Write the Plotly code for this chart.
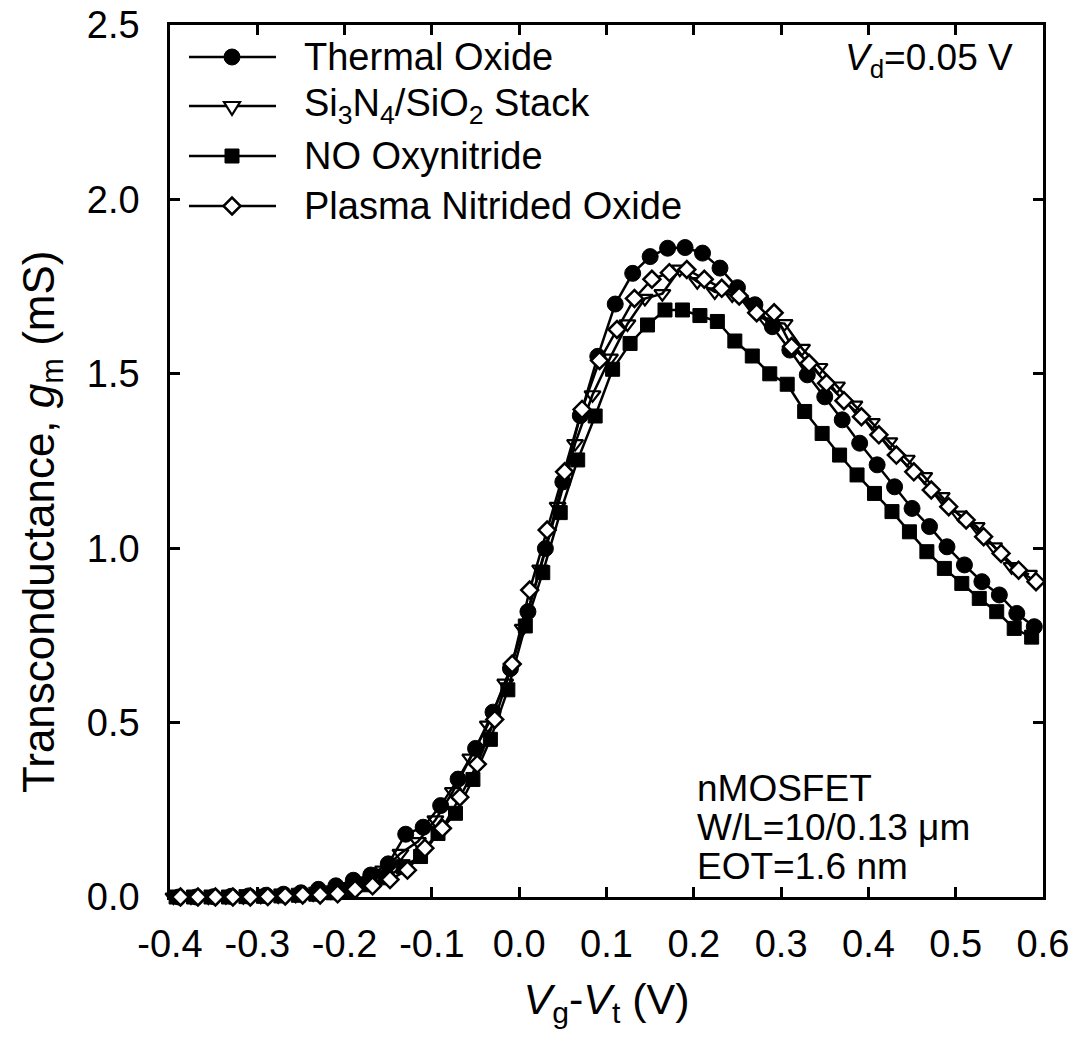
import plotly.graph_objects as go

# ---------------- data ----------------
VG = [-0.39, -0.37, -0.35, -0.33, -0.31, -0.29, -0.27, -0.25, -0.23, -0.21,
      -0.19, -0.17, -0.15, -0.13, -0.11, -0.09, -0.07, -0.05, -0.03, -0.01,
      0.01, 0.03, 0.05, 0.07, 0.09, 0.11, 0.13, 0.15, 0.17, 0.19,
      0.21, 0.23, 0.25, 0.27, 0.29, 0.31, 0.33, 0.35, 0.37, 0.39,
      0.41, 0.43, 0.45, 0.47, 0.49, 0.51, 0.53, 0.55, 0.57, 0.59]

# small per-device offsets of the Vg-Vt sweep grid
SHIFT_THERMAL = 0.000
SHIFT_STACK = -0.006
SHIFT_NO = -0.003
SHIFT_PLASMA = 0.002

GM_THERMAL = [0.000, 0.000, 0.001, 0.002, 0.003, 0.005, 0.008, 0.012, 0.022, 0.032,
              0.048, 0.063, 0.095, 0.180, 0.200, 0.262, 0.338, 0.426, 0.530, 0.655,
              0.818, 0.999, 1.190, 1.380, 1.550, 1.700, 1.788, 1.836, 1.860, 1.862,
              1.846, 1.803, 1.747, 1.698, 1.635, 1.568, 1.497, 1.434, 1.368, 1.301,
              1.239, 1.176, 1.114, 1.062, 1.004, 0.952, 0.904, 0.866, 0.813, 0.775]

GM_STACK = [0.000, 0.000, 0.000, 0.001, 0.001, 0.002, 0.003, 0.005, 0.009, 0.015,
            0.025, 0.045, 0.077, 0.125, 0.159, 0.221, 0.302, 0.398, 0.493, 0.613,
            0.770, 0.940, 1.120, 1.300, 1.440, 1.545, 1.643, 1.716, 1.730, 1.800,
            1.764, 1.735, 1.726, 1.702, 1.649, 1.644, 1.573, 1.518, 1.465, 1.410,
            1.360, 1.305, 1.255, 1.205, 1.148, 1.095, 1.062, 1.004, 0.947, 0.925]

GM_NO = [0.000, 0.000, 0.000, 0.000, 0.001, 0.002, 0.003, 0.005, 0.008, 0.012,
         0.020, 0.035, 0.055, 0.087, 0.116, 0.182, 0.240, 0.337, 0.452, 0.594,
         0.777, 0.930, 1.102, 1.253, 1.379, 1.513, 1.587, 1.640, 1.683, 1.683,
         1.667, 1.650, 1.594, 1.551, 1.500, 1.470, 1.392, 1.329, 1.267, 1.210,
         1.157, 1.105, 1.047, 0.990, 0.942, 0.899, 0.856, 0.818, 0.770, 0.745]

GM_PLASMA = [0.000, 0.000, 0.000, 0.000, 0.000, 0.001, 0.003, 0.006, 0.006, 0.009,
             0.022, 0.032, 0.050, 0.077, 0.140, 0.197, 0.286, 0.381, 0.509, 0.668,
             0.880, 1.052, 1.219, 1.398, 1.538, 1.627, 1.716, 1.771, 1.790, 1.799,
             1.771, 1.745, 1.723, 1.675, 1.675, 1.578, 1.530, 1.473, 1.423, 1.377,
             1.325, 1.267, 1.219, 1.167, 1.119, 1.081, 1.033, 0.985, 0.937, 0.904]

SERIES_NAMES = ["Thermal Oxide",
                "Si<sub>3</sub>N<sub>4</sub>/SiO<sub>2</sub> Stack",
                "NO Oxynitride",
                "Plasma Nitrided Oxide"]

X_TICKS = [-0.4, -0.3, -0.2, -0.1, 0.0, 0.1, 0.2, 0.3, 0.4, 0.5, 0.6]
X_TICKTEXT = ["-0.4", "-0.3", "-0.2", "-0.1", "0.0", "0.1", "0.2", "0.3", "0.4", "0.5", "0.6"]
Y_TICKS = [0.0, 0.5, 1.0, 1.5, 2.0, 2.5]
Y_TICKTEXT = ["0.0", "0.5", "1.0", "1.5", "2.0", "2.5"]

# ---------------- layout constants ----------------
W, H = 1076, 1052
ML, MR, MT, MB = 170, 33, 25, 155
PW, PH = W - ML - MR, H - MT - MB
FONT = "Liberation Sans, Arial, Helvetica, sans-serif"
LW = 2.5

styles = [
    dict(symbol="circle", size=16, color="black", line=dict(color="black", width=1)),
    dict(symbol="triangle-down-open", size=14, color="black", line=dict(color="black", width=2.2)),
    dict(symbol="square", size=14, color="black", line=dict(color="black", width=1)),
    dict(symbol="diamond", size=13, color="white", line=dict(color="black", width=2.5)),
]
shifts = [SHIFT_THERMAL, SHIFT_STACK, SHIFT_NO, SHIFT_PLASMA]
values = [GM_THERMAL, GM_STACK, GM_NO, GM_PLASMA]

fig = go.Figure()
for name, sh, ys, st in zip(SERIES_NAMES, shifts, values, styles):
    fig.add_trace(go.Scatter(
        x=[v + sh for v in VG], y=ys, name=name, mode="lines+markers",
        line=dict(color="black", width=LW),
        marker=st, cliponaxis=False, showlegend=False))

# ---------------- manual legend (pixel placement) ----------------
def px2paper(px, py):
    return (px - ML) / PW, (H - MB - py) / PH

shapes = []
annotations = []
legend_rows = [57, 106, 156, 206]
line_x0, line_x1, mark_x, text_x = 189, 276, 232, 302
for i, (name, py) in enumerate(zip(SERIES_NAMES, legend_rows)):
    xa, ya = px2paper(line_x0, py)
    xb, _ = px2paper(line_x1, py)
    xm, _ = px2paper(mark_x, py)
    xt, _ = px2paper(text_x, py)
    shapes.append(dict(type="line", xref="paper", yref="paper", x0=xa, x1=xb, y0=ya, y1=ya,
                       line=dict(color="black", width=LW)))
    common = dict(xref="paper", yref="paper", xsizemode="pixel", ysizemode="pixel",
                  xanchor=xm, yanchor=ya)
    if i == 0:
        shapes.append(dict(type="circle", x0=-8, x1=8, y0=-8, y1=8,
                           fillcolor="black", line=dict(color="black", width=1), **common))
    elif i == 1:
        shapes.append(dict(type="path", path="M-8,4 L8,4 L0,-9 Z",
                           fillcolor="white", line=dict(color="black", width=2.2), **common))
    elif i == 2:
        shapes.append(dict(type="rect", x0=-7, x1=7, y0=-7, y1=7,
                           fillcolor="black", line=dict(color="black", width=1), **common))
    else:
        shapes.append(dict(type="path", path="M0,-8.5 L8.5,0 L0,8.5 L-8.5,0 Z",
                           fillcolor="white", line=dict(color="black", width=2.5), **common))
    annotations.append(dict(text=name, xref="paper", yref="paper", x=xt, y=ya,
                            xanchor="left", yanchor="middle", showarrow=False,
                            font=dict(family=FONT, size=38, color="black")))

# ---------------- other annotations ----------------
xv, yv = px2paper(1015, 60)
annotations.append(dict(text="<i>V</i><sub>d</sub>=0.05 V", xref="paper", yref="paper",
                        x=xv, y=yv, xanchor="right", yanchor="middle", showarrow=False,
                        font=dict(family=FONT, size=37, color="black")))
for txt, py in [("nMOSFET", 788), ("W/L=10/0.13 μm", 827), ("EOT=1.6 nm", 866)]:
    xa, ya = px2paper(695, py)
    annotations.append(dict(text=txt, xref="paper", yref="paper", x=xa, y=ya,
                            xanchor="left", yanchor="middle", showarrow=False,
                            font=dict(family=FONT, size=37, color="black")))

# y-axis title (placed below axis centre, as in the original)
xt_, yt_ = px2paper(42, 522)
annotations.append(dict(text="Transconductance, <i>g</i><sub>m</sub> (mS)",
                        xref="paper", yref="paper", x=xt_, y=yt_, textangle=-90,
                        xanchor="center", yanchor="middle", showarrow=False,
                        font=dict(family=FONT, size=44, color="black")))

axis_common = dict(showline=True, linecolor="black", linewidth=LW, mirror="ticks",
                   ticks="inside", ticklen=10, tickwidth=LW, tickcolor="black",
                   showgrid=False, zeroline=False, layer="below traces", automargin=False,
                   tickfont=dict(family=FONT, size=38, color="black"))

fig.update_layout(
    template="none",
    width=W, height=H,
    margin=dict(l=ML, r=MR, t=MT, b=MB, pad=0, autoexpand=False),
    paper_bgcolor="white", plot_bgcolor="white",
    xaxis=dict(range=[-0.4, 0.6], tickvals=X_TICKS, ticktext=X_TICKTEXT,
               ticklabelstandoff=12,
               title=dict(text="<i>V</i><sub>g</sub>-<i>V</i><sub>t</sub> (V)",
                          font=dict(family=FONT, size=43, color="black"), standoff=20),
               **axis_common),
    yaxis=dict(range=[0, 2.5], tickvals=Y_TICKS, ticktext=Y_TICKTEXT,
               ticklabelstandoff=20,
               **axis_common),
    shapes=shapes, annotations=annotations,
    showlegend=False,
)

fig.write_html("out.html")
